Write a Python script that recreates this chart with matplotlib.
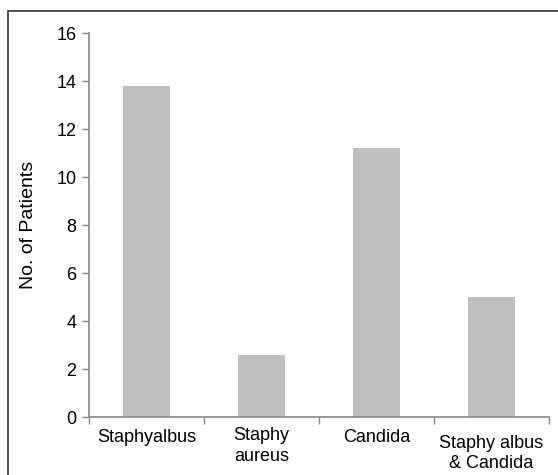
import matplotlib.pyplot as plt
import matplotlib.transforms as mtransforms
from matplotlib.patches import Rectangle

categories = ['Staphyalbus', 'Staphy\naureus', 'Candida', 'Staphy albus\n& Candida']
patients = [13.8, 2.6, 11.2, 5.0]
label_shift_px = [0, -2, 0, 5]

plt.rcParams['font.family'] = ['Liberation Sans', 'DejaVu Sans']

fig = plt.figure(figsize=(5.58, 4.75), dpi=100)
ax = fig.add_axes([89 / 558, 1 - 417 / 475, 460 / 558, 384 / 475])

x = range(len(categories))
ax.bar(x, patients, width=0.41, color='#bfbfbf')

ax.set_xlim(-0.5, len(categories) - 0.5)
ax.set_ylim(0, 16)
ax.set_yticks(range(0, 17, 2))
ax.tick_params(axis='y', labelsize=13, length=5, color='#888888', width=1, pad=4)

# tick marks sit between categories, labels are centred under the bars
ax.set_xticks([i - 0.5 for i in range(len(categories) + 1)], minor=False)
ax.set_xticklabels([])
ax.tick_params(axis='x', length=5, color='#888888', width=1)
ax.set_xticks(list(x), minor=True)
ax.set_xticklabels(categories, minor=True, fontsize=13)
ax.tick_params(axis='x', which='minor', length=0, pad=9)
for lab, dy in zip(ax.get_xticklabels(minor=True), label_shift_px):
    lab.set_linespacing(1.3)
    lab.set_transform(lab.get_transform() + mtransforms.ScaledTranslation(0, -dy / 100, fig.dpi_scale_trans))

for side in ['top', 'right']:
    ax.spines[side].set_visible(False)
for side in ['left', 'bottom']:
    ax.spines[side].set_color('#888888')
    ax.spines[side].set_linewidth(1.2)

ax.set_ylabel('No. of Patients', fontsize=14)
ax.yaxis.set_label_coords(-0.112, 0.5)

border = Rectangle((8 / 558, -0.1), 1.0, 1 - 11 / 475 + 0.1, transform=fig.transFigure,
                   fill=False, edgecolor='#333333', linewidth=1.2)
fig.patches.append(border)

fig.savefig('out.png', dpi=100)
